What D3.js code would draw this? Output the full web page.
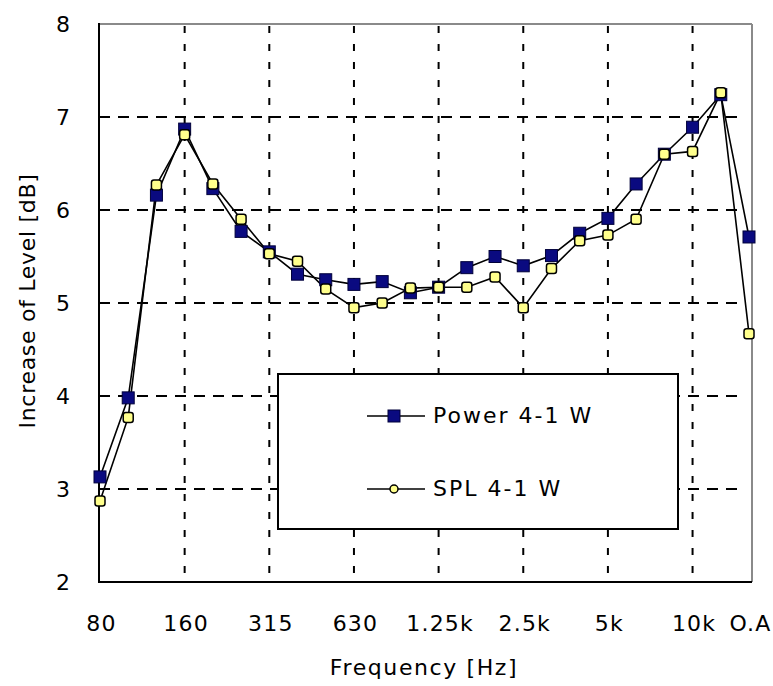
<!DOCTYPE html>
<html>
<head>
<meta charset="utf-8">
<script src="https://cdn.jsdelivr.net/npm/d3@7"></script>
<style>
  html, body { margin: 0; padding: 0; background: #fff; }
  svg { display: block; }
  text { font-family: "DejaVu Sans", "Liberation Sans", sans-serif; fill: #000; }
</style>
</head>
<body>
<script>
const categories = ["80","100","125","160","200","250","315","400","500","630","800","1k","1.25k","1.6k","2k","2.5k","3.15k","4k","5k","6.3k","8k","10k","12.5k","O.A"];
const tickLabels = ["80","160","315","630","1.25k","2.5k","5k","10k","O.A"];
const gridCategories = ["160","315","630","1.25k","2.5k","5k","10k"];
const yTicks = [2,3,4,5,6,7,8];
const yGrid = [3,4,5,6,7];
const powerValues = [3.13, 3.98, 6.16, 6.87, 6.23, 5.77, 5.55, 5.31, 5.25, 5.20, 5.23, 5.11, 5.17, 5.38, 5.50, 5.40, 5.51, 5.75, 5.91, 6.28, 6.60, 6.89, 7.24, 5.71];
const splValues   = [2.87, 3.77, 6.27, 6.81, 6.28, 5.90, 5.53, 5.45, 5.15, 4.95, 5.00, 5.16, 5.17, 5.17, 5.28, 4.95, 5.37, 5.67, 5.73, 5.90, 6.60, 6.63, 7.26, 4.67];
const seriesNames = ["Power 4-1 W", "SPL 4-1 W"];

(function () {
const W = 773, H = 686;
const pL = 99, pR = 752, pT = 24, pB = 582;

const svg = d3.select("body").append("svg").attr("width", W).attr("height", H);

const x = d3.scalePoint().domain(categories).range([100, 749]);
const y = d3.scaleLinear().domain([2, 8]).range([pB, pT]);

// gridlines
svg.append("g").selectAll("line").data(yGrid).join("line")
  .attr("x1", pL).attr("x2", 740)
  .attr("y1", d => y(d)).attr("y2", d => y(d))
  .attr("stroke", "#000").attr("stroke-width", 2).attr("stroke-dasharray", "11,8");
svg.append("g").selectAll("line").data(gridCategories).join("line")
  .attr("x1", d => x(d)).attr("x2", d => x(d))
  .attr("y1", pT + 2).attr("y2", pB)
  .attr("stroke", "#000").attr("stroke-width", 2).attr("stroke-dasharray", "7,11");

// frame: top/right gray, left/bottom black
svg.append("line").attr("x1", pL).attr("x2", pR).attr("y1", pT).attr("y2", pT)
  .attr("stroke", "#8a8a8a").attr("stroke-width", 2);
svg.append("line").attr("x1", pR).attr("x2", pR).attr("y1", pT).attr("y2", pB)
  .attr("stroke", "#8a8a8a").attr("stroke-width", 2);

// axes
const xAxis = svg.append("g").attr("transform", `translate(0,${pB})`)
  .call(d3.axisBottom(x).tickValues(tickLabels).tickSize(0).tickPadding(0));
xAxis.select(".domain").attr("d", `M${pL},0H${pR}`).attr("stroke", "#000").attr("stroke-width", 2);
xAxis.selectAll(".tick text")
  .attr("y", 49).attr("dy", null).attr("dx", 1)
  .style("font-size", "22px").style("letter-spacing", "1.2px")
  .attr("text-anchor", "middle").attr("font-family", null);

const yAxis = svg.append("g").attr("transform", `translate(${pL},0)`)
  .call(d3.axisLeft(y).tickValues(yTicks).tickFormat(d3.format("d")).tickSize(0));
yAxis.select(".domain").attr("d", `M0,${pT - 1}V${pB + 1}`).attr("stroke", "#000").attr("stroke-width", 2);
yAxis.selectAll(".tick text")
  .attr("x", -36).attr("dy", "0.35em")
  .attr("text-anchor", "middle").attr("font-family", null)
  .style("font-size", "22px");

// axis titles
svg.append("text").attr("x", 424).attr("y", 675).attr("text-anchor", "middle")
  .style("font-size", "22px").style("letter-spacing", "1.6px").text("Frequency [Hz]");
svg.append("text").attr("transform", "translate(27,301) rotate(-90)")
  .attr("text-anchor", "middle").attr("dominant-baseline", "central")
  .style("font-size", "22px").style("letter-spacing", "0.7px").text("Increase of Level [dB]");

// lines
const line = d3.line().x((d, i) => x(categories[i])).y(d => y(d));
svg.append("path").datum(powerValues).attr("d", line)
  .attr("fill", "none").attr("stroke", "#000").attr("stroke-width", 1.6);
svg.append("path").datum(splValues).attr("d", line)
  .attr("fill", "none").attr("stroke", "#000").attr("stroke-width", 1.6);

// markers
svg.append("g").selectAll("rect").data(powerValues).join("rect")
  .attr("x", (d, i) => x(categories[i]) - 6).attr("y", d => y(d) - 6)
  .attr("width", 12).attr("height", 12)
  .attr("fill", "#0a0a80").attr("stroke", "#00003a").attr("stroke-width", 1);
svg.append("g").selectAll("rect").data(splValues).join("rect")
  .attr("x", (d, i) => x(categories[i]) - 5).attr("y", d => y(d) - 5)
  .attr("width", 10).attr("height", 10).attr("rx", 2.5)
  .attr("fill", "#ffff8c").attr("stroke", "#000").attr("stroke-width", 1.5);

// legend
const lg = svg.append("g");
lg.append("rect").attr("x", 278).attr("y", 374).attr("width", 400).attr("height", 155)
  .attr("fill", "#fff").attr("stroke", "#000").attr("stroke-width", 2);
const legendY = [416, 489];
lg.selectAll("line.l").data(seriesNames).join("line").attr("class", "l")
  .attr("x1", 367).attr("x2", 425).attr("y1", (d, i) => legendY[i]).attr("y2", (d, i) => legendY[i])
  .attr("stroke", "#000").attr("stroke-width", 1.6);
lg.append("rect").attr("x", 388).attr("y", legendY[0] - 6).attr("width", 12).attr("height", 12)
  .attr("fill", "#0a0a80").attr("stroke", "#00003a").attr("stroke-width", 1);
lg.append("circle").attr("cx", 394).attr("cy", legendY[1]).attr("r", 4)
  .attr("fill", "#ffff8c").attr("stroke", "#000").attr("stroke-width", 1.5);
lg.selectAll("text").data(seriesNames).join("text")
  .attr("x", 433).attr("y", (d, i) => legendY[i] + 7)
  .style("font-size", "22px").style("letter-spacing", "2px")
  .text(d => d);
})();
</script>
</body>
</html>
